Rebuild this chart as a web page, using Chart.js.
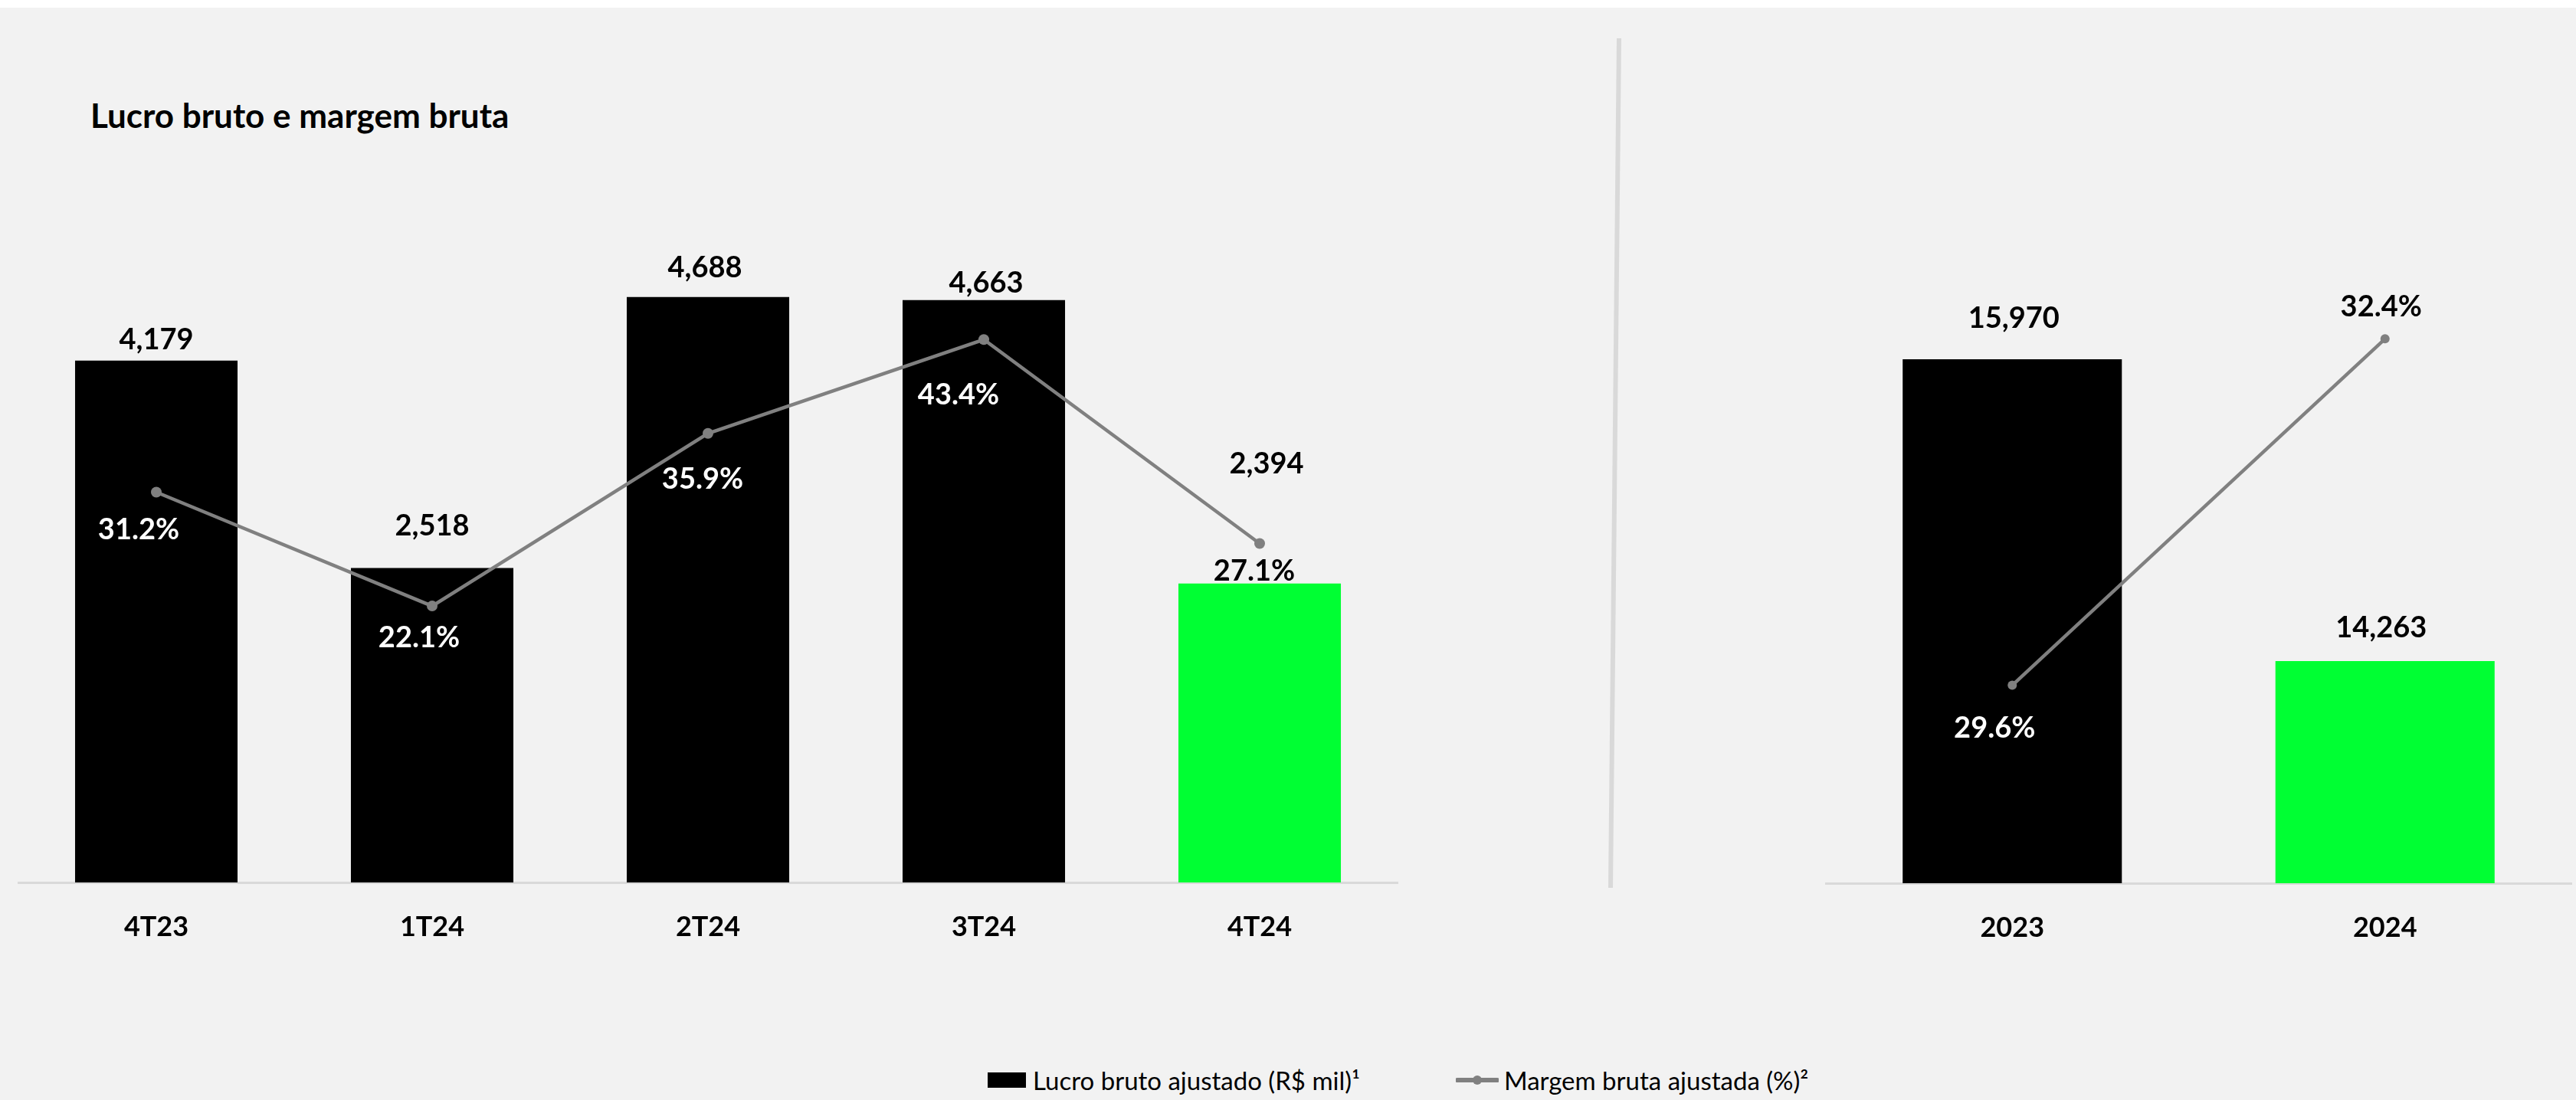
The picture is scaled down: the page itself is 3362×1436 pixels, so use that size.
<!DOCTYPE html>
<html>
<head>
<meta charset="utf-8">
<title>Lucro bruto e margem bruta</title>
<script src="https://cdn.jsdelivr.net/npm/chart.js@4.4.1/dist/chart.umd.min.js"></script>
<style>
  html, body { margin: 0; padding: 0; }
  body {
    width: 3362px; height: 1436px; position: relative; overflow: hidden;
    background: #f2f2f2; font-family: Lato, 'Open Sans', sans-serif; color: #000;
  }
  #topband { position: absolute; left: 0; top: 0; width: 3362px; height: 10px; background: #fff; }
  #title {
    position: absolute; left: 118px; top: 128px; font-size: 44px; font-weight: bold;
    line-height: 1; white-space: nowrap;
  }
  #divider { position: absolute; left: 0; top: 0; }
  #js-left { position: absolute; left: 0; top: 0; }
  #js-right { position: absolute; left: 2000px; top: 0; }
  .c-legend__item {
    position: absolute; top: 1393px; height: 34px; display: flex; align-items: center;
    font-size: 33px; white-space: nowrap;
  }
  .c-legend__box { width: 50px; height: 20px; margin-right: 9px; }
  .c-legend__line { margin-right: 7px; }
</style>
</head>
<body>
<div id="topband"></div>
<div id="title">Lucro bruto e margem bruta</div>
<svg id="divider" width="3362" height="1436">
  <line x1="2113" y1="50" x2="2102" y2="1159" stroke="#d9d9d9" stroke-width="6" />
</svg>
<canvas id="js-left" width="1900" height="1300"></canvas>
<canvas id="js-right" width="1362" height="1300"></canvas>
<div id="js-legend"></div>

<script>
'use strict';
// quarterly
const quarters = ['4T23', '1T24', '2T24', '3T24', '4T24'];
const quarterProfit = [4179, 2518, 4688, 4663, 2394];
const quarterMargin = [31.2, 22.1, 35.9, 43.4, 27.1];
// yearly
const years = ['2023', '2024'];
const yearProfit = [15970, 14263];
const yearMargin = [29.6, 32.4];

const profitLabel = 'Lucro bruto ajustado (R$ mil)¹';
const marginLabel = 'Margem bruta ajustada (%)²';

const black = '#000000';
const green = '#00ff33';
const grey = '#808080';

Chart.defaults.font.family = 'Lato';
Chart.defaults.color = '#000';

const fmtProfit = v => v.toLocaleString('en-US');
const fmtMargin = v => v.toFixed(1) + '%';

// draws the numbers next to bars / points (Excel had them placed by hand)
const valueLabels = {
  id: 'valueLabels',
  afterDatasetsDraw(chart, args, opts) {
    const ctx = chart.ctx;
    ctx.save();
    ctx.font = 'bold 38px Lato';
    ctx.textAlign = 'center';
    ctx.textBaseline = 'middle';
    chart.data.datasets.forEach((ds, di) => {
      const meta = chart.getDatasetMeta(di);
      meta.data.forEach((el, i) => {
        const off = opts.shifts[di][i];
        ctx.fillStyle = opts.colors[di][i];
        ctx.fillText(opts.format[di](ds.data[i]), el.x + off[0], el.y + off[1]);
      });
    });
    ctx.restore();
  }
};

const xScale = function(pad) {
  return {
    grid: { display: false, drawTicks: false },
    border: { display: true, color: '#d9d9d9', width: 3 },
    ticks: { color: '#000', font: { size: 36, weight: 'bold' }, padding: pad },
    afterFit: function(scale) { scale.height = 100; }
  };
};

const lastGreen = function(ctx) {
  return ctx.dataIndex === ctx.chart.data.labels.length - 1 ? green : black;
};

const makeChart = function(canvas, labels, profit, margin, o) {
  return new Chart(canvas.getContext('2d'), {
    type: 'bar',
    data: {
      labels: labels,
      datasets: [
        {
          type: 'bar',
          label: profitLabel,
          data: profit,
          yAxisID: 'y',
          order: 1,
          backgroundColor: lastGreen,
          barPercentage: o.barPct,
          categoryPercentage: 1
        },
        {
          type: 'line',
          label: marginLabel,
          data: margin,
          yAxisID: 'y1',
          order: 0,
          borderColor: grey,
          borderWidth: 4.5,
          pointRadius: o.pointR,
          pointBackgroundColor: grey,
          pointBorderWidth: 0,
          tension: 0,
          clip: false
        }
      ]
    },
    options: {
      responsive: false,
      animation: false,
      events: [],
      layout: { padding: o.padding },
      plugins: {
        legend: { display: false },
        tooltip: { enabled: false },
        valueLabels: {
          shifts: o.shifts,
          colors: o.colors,
          format: [fmtProfit, fmtMargin]
        }
      },
      scales: {
        x: xScale(37),
        y: { display: false, min: o.yMin, max: o.yMax },
        y1: { display: false, min: o.y1Min, max: o.y1Max }
      }
    },
    plugins: [valueLabels]
  });
};

const buildLegend = function() {
  const holder = document.querySelector('#js-legend');
  holder.innerHTML = `
  <div class="c-legend__item" style="left:1289px">
    <div class="c-legend__box" style="background:${black}"></div><span>${profitLabel}</span>
  </div>
  <div class="c-legend__item" style="left:1900px">
    <svg class="c-legend__line" width="56" height="20">
      <line x1="2" y1="10" x2="54" y2="10" stroke="${grey}" stroke-width="6" stroke-linecap="round" />
      <circle cx="28" cy="10" r="6" fill="${grey}" />
    </svg><span>${marginLabel}</span>
  </div>`;
};

document.addEventListener('DOMContentLoaded', function() {
  makeChart(document.querySelector('#js-left'), quarters, quarterProfit, quarterMargin, {
    barPct: 0.589,
    pointR: 7,
    padding: { left: 24, right: 76, top: 200, bottom: 48 },
    yMin: 0, yMax: 5840,
    y1Min: 0, y1Max: 58.3,
    shifts: [
      [[0, -27], [0, -55], [-4, -38], [3, -22], [9, -156]],
      [[-23, 49], [-17, 42], [-7, 60], [-33, 72], [-7, 36]]
    ],
    colors: [
      [black, black, black, black, black],
      ['#fff', '#fff', '#fff', '#fff', black]
    ]
  });

  makeChart(document.querySelector('#js-right'), years, yearProfit, yearMargin, {
    barPct: 0.588,
    pointR: 6,
    padding: { left: 383, right: 0, top: 200, bottom: 47 },
    yMin: 13006, yMax: 17135,
    y1Min: 28.0, y1Max: 33.9,
    shifts: [
      [[2, -53], [-5, -43]],
      [[-23, 56], [-5, -42]]
    ],
    colors: [
      [black, black],
      ['#fff', black]
    ]
  });

  buildLegend();
});
</script>
</body>
</html>
